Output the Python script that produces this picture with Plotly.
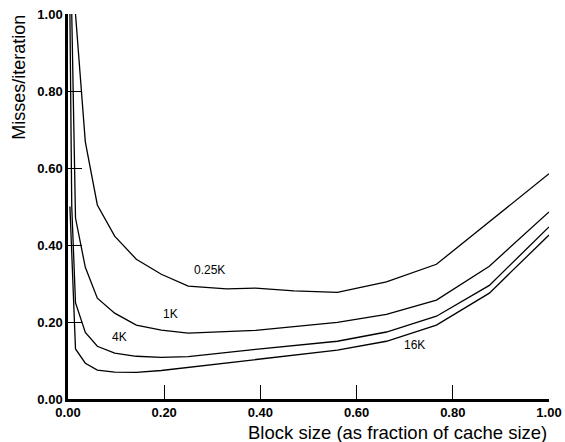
import plotly.graph_objects as go

# Block size (fraction of cache size) and misses/iteration per cache size
x_025k = [0.0156, 0.036, 0.061, 0.097, 0.142, 0.194, 0.25, 0.33, 0.39, 0.47, 0.56, 0.662, 0.766, 0.876, 1.0]
y_025k = [1.0, 0.668, 0.504, 0.423, 0.363, 0.324, 0.293, 0.286, 0.288, 0.281, 0.277, 0.304, 0.350, 0.460, 0.585]

x_1k = [0.0078, 0.0156, 0.036, 0.061, 0.097, 0.142, 0.194, 0.25, 0.39, 0.56, 0.662, 0.766, 0.876, 1.0]
y_1k = [1.0, 0.47, 0.342, 0.262, 0.223, 0.192, 0.179, 0.171, 0.178, 0.199, 0.22, 0.257, 0.345, 0.486]

x_4k = [0.004, 0.0078, 0.0156, 0.036, 0.061, 0.097, 0.142, 0.194, 0.25, 0.39, 0.56, 0.662, 0.766, 0.876, 1.0]
y_4k = [1.0, 0.5, 0.25, 0.173, 0.137, 0.119, 0.111, 0.108, 0.11, 0.129, 0.15, 0.174, 0.215, 0.295, 0.447]

x_16k = [0.004, 0.0156, 0.036, 0.061, 0.097, 0.142, 0.194, 0.25, 0.39, 0.56, 0.662, 0.766, 0.876, 1.0]
y_16k = [0.5, 0.13, 0.093, 0.075, 0.07, 0.069, 0.074, 0.082, 0.101, 0.127, 0.15, 0.192, 0.275, 0.426]

series = [
    ("0.25K", x_025k, y_025k, 0.294, 0.335),
    ("1K", x_1k, y_1k, 0.214, 0.22),
    ("4K", x_4k, y_4k, 0.107, 0.160),
    ("16K", x_16k, y_16k, 0.72, 0.140),
]

tick_vals = [0.0, 0.2, 0.4, 0.6, 0.8, 1.0]
tick_text = ["0.00", "0.20", "0.40", "0.60", "0.80", "1.00"]

FONT = "Liberation Sans, Arial, sans-serif"

fig = go.Figure()
annotations = []
for name, xs, ys, lx, ly in series:
    fig.add_trace(go.Scatter(x=xs, y=ys, mode="lines", name=name,
                             line=dict(color="black", width=1.3),
                             showlegend=False, cliponaxis=False))
    annotations.append(dict(x=lx, y=ly, xref="x", yref="y", text=name,
                            showarrow=False, font=dict(family=FONT, size=12, color="black")))

annotations.append(dict(x=1.0, y=-0.087, xref="paper", yref="paper",
                        text="Block size (as fraction of cache size)", showarrow=False,
                        xanchor="right", yanchor="middle",
                        font=dict(family=FONT, size=18.5, color="black")))
annotations.append(dict(x=-0.101, y=1.003, xref="paper", yref="paper",
                        text="Misses/iteration", showarrow=False, textangle=-90,
                        xanchor="center", yanchor="top",
                        font=dict(family=FONT, size=18, color="black")))

axis_common = dict(
    range=[0, 1], tickvals=tick_vals, ticktext=tick_text,
    ticks="inside", ticklen=14, tickwidth=1, tickcolor="black",
    showline=True, linecolor="black", linewidth=2.5,
    showgrid=False, zeroline=False, automargin=False,
    tickfont=dict(family=FONT, size=13, color="black", weight="bold"),
)

fig.update_layout(
    width=565, height=442,
    margin=dict(l=68, r=16, t=14, b=43),
    plot_bgcolor="white", paper_bgcolor="white",
    xaxis=dict(**axis_common),
    yaxis=dict(**axis_common),
    annotations=annotations,
)

fig.write_html("out.html")
